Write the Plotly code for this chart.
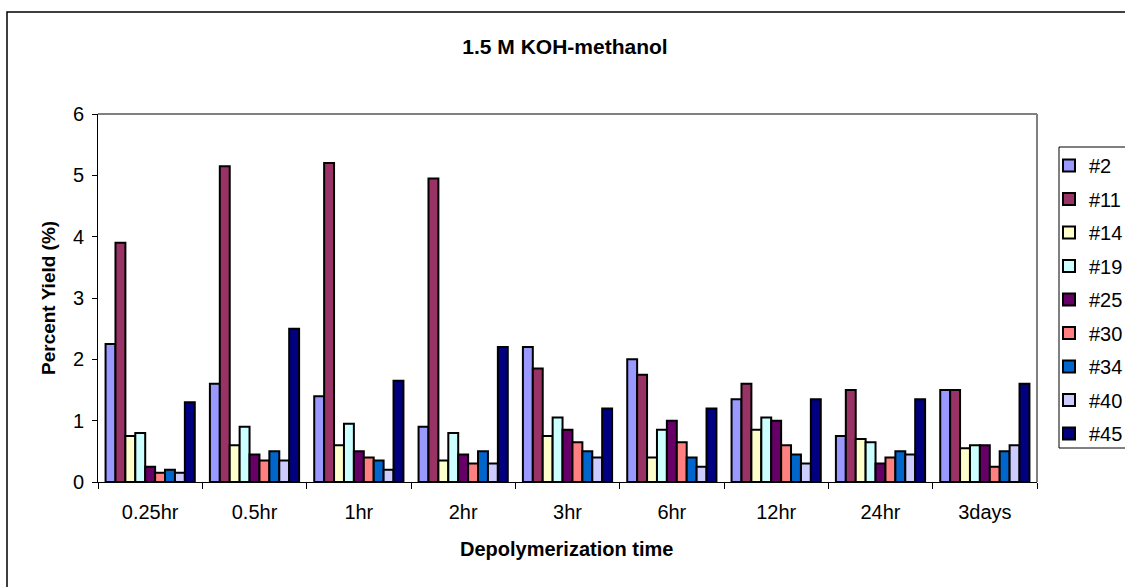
import plotly.graph_objects as go

# Depolymerization times (x categories)
times = ["0.25hr", "0.5hr", "1hr", "2hr", "3hr", "6hr", "12hr", "24hr", "3days"]

# Sample labels and percent yield per time point
samples = ["#2", "#11", "#14", "#19", "#25", "#30", "#34", "#40", "#45"]
yield_2 = [2.25, 1.6, 1.4, 0.9, 2.2, 2.0, 1.35, 0.75, 1.5]
yield_11 = [3.9, 5.15, 5.2, 4.95, 1.85, 1.75, 1.6, 1.5, 1.5]
yield_14 = [0.75, 0.6, 0.6, 0.35, 0.75, 0.4, 0.85, 0.7, 0.55]
yield_19 = [0.8, 0.9, 0.95, 0.8, 1.05, 0.85, 1.05, 0.65, 0.6]
yield_25 = [0.25, 0.45, 0.5, 0.45, 0.85, 1.0, 1.0, 0.3, 0.6]
yield_30 = [0.15, 0.35, 0.4, 0.3, 0.65, 0.65, 0.6, 0.4, 0.25]
yield_34 = [0.2, 0.5, 0.35, 0.5, 0.5, 0.4, 0.45, 0.5, 0.5]
yield_40 = [0.15, 0.35, 0.2, 0.3, 0.4, 0.25, 0.3, 0.45, 0.6]
yield_45 = [1.3, 2.5, 1.65, 2.2, 1.2, 1.2, 1.35, 1.35, 1.6]

series = [yield_2, yield_11, yield_14, yield_19, yield_25,
          yield_30, yield_34, yield_40, yield_45]
colors = ["#9999FF", "#993366", "#FFFFCC", "#CCFFFF", "#660066",
          "#FF8080", "#0066CC", "#CCCCFF", "#000080"]

FONT = "Liberation Sans, Arial, sans-serif"

W, H = 1125, 587
PLOT_L, PLOT_R, PLOT_T, PLOT_B = 98, 1037, 114, 482
PW, PH = PLOT_R - PLOT_L, PLOT_B - PLOT_T

fig = go.Figure()
for name, vals, col in zip(samples, series, colors):
    fig.add_trace(go.Bar(
        x=times, y=vals, name=name, legendgroup=name,
        marker=dict(color=col, line=dict(color="black", width=2)),
    ))

fig.update_layout(
    width=W, height=H,
    margin=dict(l=PLOT_L, r=W - PLOT_R, t=PLOT_T, b=H - PLOT_B),
    paper_bgcolor="white", plot_bgcolor="white",
    barmode="group", bargap=0.145, bargroupgap=0,
    font=dict(family=FONT, size=20, color="black"),
    title=dict(text="<b>1.5 M KOH-methanol</b>", x=565 / W, xanchor="center",
               y=1 - 47 / H, yanchor="middle",
               font=dict(family=FONT, size=21, color="black")),
    showlegend=True,
    legend=dict(
        x=1049 / W, xref="container", xanchor="left",
        y=1 - 146 / H, yref="container", yanchor="top",
        borderwidth=0, bgcolor="rgba(0,0,0,0)",
        font=dict(family=FONT, size=20, color="black"),
        tracegroupgap=4.5, itemwidth=30, maxheight=500,
    ),
    xaxis=dict(
        type="category", showgrid=False, showline=True, linecolor="black",
        linewidth=1, ticks="outside", tickson="boundaries", ticklen=6,
        tickcolor="black", tickfont=dict(size=20), ticklabelstandoff=12,
        fixedrange=True,
    ),
    yaxis=dict(
        range=[0, 6], dtick=1, showgrid=False, showline=True,
        linecolor="black", linewidth=1, ticks="outside", ticklen=5,
        tickcolor="black", tickfont=dict(size=20), zeroline=False,
        ticklabelstandoff=4, fixedrange=True,
    ),
    annotations=[
        dict(text="<b>Depolymerization time</b>", xref="paper", yref="paper",
             x=(566 - PLOT_L) / PW, y=(PLOT_B - 549) / PH, xanchor="center",
             yanchor="middle", showarrow=False,
             font=dict(family=FONT, size=20)),
        dict(text="<b>Percent Yield (%)</b>", xref="paper", yref="paper",
             x=(48 - PLOT_L) / PW, y=0.5, xanchor="center", yanchor="middle",
             textangle=-90, showarrow=False, font=dict(family=FONT, size=19)),
    ],
    shapes=[
        # plot-area frame (top and right edges in grey)
        dict(type="line", xref="paper", yref="paper", x0=0, x1=1, y0=1, y1=1,
             line=dict(color="#808080", width=2)),
        dict(type="line", xref="paper", yref="paper", x0=1, x1=1, y0=0, y1=1,
             line=dict(color="#808080", width=2)),
        # legend frame
        dict(type="rect", xref="paper", yref="paper",
             x0=(1059 - PLOT_L) / PW, x1=(1140 - PLOT_L) / PW,
             y0=(PLOT_B - 448) / PH, y1=(PLOT_B - 147) / PH,
             line=dict(color="black", width=1), layer="below"),
        # outer chart border
        dict(type="rect", xref="paper", yref="paper",
             x0=(7 - PLOT_L) / PW, x1=(1135 - PLOT_L) / PW,
             y0=(PLOT_B - 600) / PH, y1=(PLOT_B - 12) / PH,
             line=dict(color="black", width=1.5), layer="below"),
    ],
)

fig.write_html("out.html")
